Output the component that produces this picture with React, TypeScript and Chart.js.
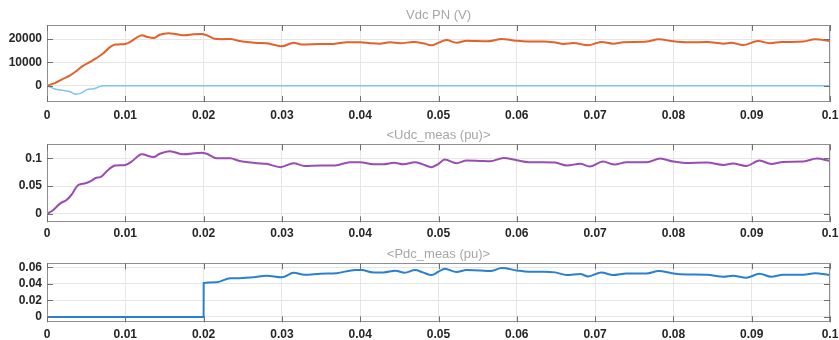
import React, { useEffect, useRef } from "react";
import { Chart, registerables } from "chart.js";
Chart.register(...registerables);

// ---------- data ----------
const xTicks = [0, 0.01, 0.02, 0.03, 0.04, 0.05, 0.06, 0.07, 0.08, 0.09, 0.1];
const xTickLabels = ["0", "0.01", "0.02", "0.03", "0.04", "0.05", "0.06", "0.07", "0.08", "0.09", "0.1"];

const vdcTicks = [0, 10000, 20000];
const vdcTickLabels = ["0", "10000", "20000"];
const udcTicks = [0, 0.05, 0.1];
const udcTickLabels = ["0", "0.05", "0.1"];
const pdcTicks = [0, 0.02, 0.04, 0.06];
const pdcTickLabels = ["0", "0.02", "0.04", "0.06"];

const vdcTime = [0, 0.001, 0.0021, 0.0029, 0.0038, 0.0046, 0.0055, 0.0063, 0.0072, 0.008, 0.0087, 0.01, 0.0106, 0.0115, 0.0121, 0.0127, 0.0136, 0.0144, 0.0155, 0.0166, 0.0176, 0.0187, 0.0197, 0.0204, 0.0214, 0.0223, 0.0234, 0.0246, 0.0259, 0.0268, 0.028, 0.0291, 0.03, 0.0315, 0.0327, 0.0349, 0.0366, 0.0383, 0.04, 0.0413, 0.0425, 0.0438, 0.0451, 0.0468, 0.048, 0.0491, 0.05, 0.051, 0.0523, 0.0536, 0.0549, 0.0562, 0.0581, 0.0596, 0.0613, 0.0634, 0.0647, 0.066, 0.0672, 0.0691, 0.0708, 0.0723, 0.0736, 0.0766, 0.0781, 0.08, 0.0817, 0.0843, 0.0864, 0.0874, 0.0889, 0.0908, 0.0923, 0.0938, 0.0966, 0.0981, 0.1];
const vdcValues = [0, 1100, 3000, 4300, 6400, 8500, 10200, 11800, 13900, 16400, 17600, 17900, 18700, 20700, 21600, 21000, 20400, 21800, 22500, 22000, 21600, 22000, 22100, 21600, 20100, 19900, 20000, 19100, 18600, 18300, 18200, 17400, 16900, 18400, 17600, 17900, 17900, 18600, 18600, 18200, 18000, 18600, 18200, 18700, 18200, 17300, 18400, 19600, 18400, 19300, 19100, 19000, 20000, 19400, 18900, 18900, 18600, 17900, 18300, 17300, 18700, 18000, 18600, 18900, 19900, 19000, 18600, 18700, 18000, 18400, 17400, 19100, 18200, 18700, 18900, 19900, 19100];

const vdcNegTime = [0, 0.001, 0.002, 0.0029, 0.0037, 0.0044, 0.0051, 0.006, 0.0068, 0.0072, 0.1];
const vdcNegValues = [0, -1400, -2000, -2500, -3700, -3100, -1700, -1300, -300, 0, 0];

const udcTime = [0, 0.0008, 0.0017, 0.0025, 0.0031, 0.004, 0.0049, 0.0057, 0.0063, 0.0068, 0.0078, 0.0087, 0.01, 0.0108, 0.0121, 0.0136, 0.0144, 0.0157, 0.0174, 0.0197, 0.0204, 0.0217, 0.0234, 0.0246, 0.0268, 0.028, 0.0298, 0.0315, 0.0329, 0.0349, 0.0368, 0.0387, 0.04, 0.0417, 0.043, 0.0443, 0.0455, 0.047, 0.048, 0.0491, 0.05, 0.0508, 0.0523, 0.0536, 0.0553, 0.0566, 0.0583, 0.06, 0.0615, 0.0634, 0.0649, 0.0664, 0.0681, 0.0693, 0.071, 0.0725, 0.074, 0.0766, 0.0783, 0.08, 0.0815, 0.0843, 0.0864, 0.0876, 0.0893, 0.091, 0.0925, 0.094, 0.0966, 0.0983, 0.1];
const udcValues = [0, 0.007, 0.019, 0.025, 0.034, 0.052, 0.055, 0.06, 0.065, 0.066, 0.079, 0.087, 0.088, 0.094, 0.107, 0.102, 0.108, 0.1126, 0.107, 0.11, 0.108, 0.1, 0.1, 0.095, 0.091, 0.09, 0.084, 0.091, 0.086, 0.087, 0.087, 0.093, 0.093, 0.089, 0.089, 0.092, 0.089, 0.093, 0.089, 0.084, 0.09, 0.0976, 0.091, 0.0958, 0.0952, 0.0946, 0.1006, 0.0964, 0.093, 0.093, 0.0922, 0.087, 0.09, 0.085, 0.094, 0.0886, 0.0928, 0.0928, 0.0994, 0.094, 0.0916, 0.0922, 0.088, 0.0904, 0.0862, 0.0958, 0.0898, 0.0934, 0.094, 0.0994, 0.095];

const pdcTime = [0, 0.01, 0.02, 0.02001, 0.0217, 0.0234, 0.0246, 0.0264, 0.028, 0.03, 0.0315, 0.0329, 0.0349, 0.037, 0.0394, 0.0402, 0.0417, 0.043, 0.0445, 0.0457, 0.047, 0.048, 0.0491, 0.05, 0.0508, 0.0523, 0.0536, 0.0553, 0.0566, 0.0581, 0.06, 0.0615, 0.0634, 0.0649, 0.0664, 0.0681, 0.0691, 0.0708, 0.0723, 0.074, 0.0766, 0.0781, 0.08, 0.0817, 0.0843, 0.0864, 0.0876, 0.0893, 0.091, 0.0925, 0.094, 0.0966, 0.0981, 0.1];
const pdcValues = [0, 0, 0, 0.041, 0.042, 0.047, 0.047, 0.048, 0.05, 0.048, 0.0535, 0.051, 0.0523, 0.053, 0.057, 0.0568, 0.054, 0.054, 0.056, 0.0536, 0.0568, 0.054, 0.0507, 0.0548, 0.0584, 0.0544, 0.0568, 0.0564, 0.0556, 0.0592, 0.0564, 0.0548, 0.0548, 0.054, 0.0507, 0.052, 0.049, 0.054, 0.0507, 0.0527, 0.0527, 0.0556, 0.0527, 0.0515, 0.0511, 0.0487, 0.0499, 0.0475, 0.0523, 0.0487, 0.0511, 0.0511, 0.053, 0.0507];

// ---------- styling ----------
const FONT = "'Liberation Sans', Arial, Helvetica, sans-serif";
const W = 839;

const boxPlugin = {
  id: "matlabBox",
  afterDraw(chart: any) {
    const { ctx, chartArea: a, scales } = chart;
    const opts = chart.options.plugins.matlabBox || {};
    ctx.save();
    if (opts.title) {
      ctx.font = `13px ${FONT}`;
      ctx.fillStyle = "#a6a6a6";
      ctx.textAlign = "center";
      ctx.textBaseline = "middle";
      ctx.fillText(opts.title, (a.left + a.right) / 2, opts.titleY);
    }
    ctx.strokeStyle = "#8f8f8f";
    ctx.lineWidth = 1;
    ctx.strokeRect(Math.round(a.left) + 0.5, Math.round(a.top) + 0.5, Math.round(a.right - a.left) - 1, Math.round(a.bottom - a.top) - 1);
    const L = 6;
    ctx.strokeStyle = "#6f6f6f";
    ctx.beginPath();
    scales.x.ticks.forEach((t: any) => {
      const x = Math.round(scales.x.getPixelForValue(t.value)) + 0.5;
      ctx.moveTo(x, a.bottom);
      ctx.lineTo(x, a.bottom - L);
      ctx.moveTo(x, a.top);
      ctx.lineTo(x, a.top + L);
    });
    scales.y.ticks.forEach((t: any) => {
      const y = Math.round(scales.y.getPixelForValue(t.value)) + 0.5;
      ctx.moveTo(a.left, y);
      ctx.lineTo(a.left + L, y);
      ctx.moveTo(a.right, y);
      ctx.lineTo(a.right - L, y);
    });
    ctx.stroke();
    ctx.restore();
  },
};

type Series = { time: number[]; values: number[]; color: string; width: number };

type PanelProps = {
  top: number;
  height: number;
  title: string;
  titleY: number;
  areaTop: number;
  axisH: number;
  labelPad: number;
  yMin: number;
  yMax: number;
  yTicks: number[];
  yLabels: string[];
  series: Series[];
};

function Panel(p: PanelProps) {
  const ref = useRef<HTMLCanvasElement | null>(null);
  useEffect(() => {
    if (!ref.current) return;
    const tickFont = { family: FONT, size: 12, weight: "bold" as const };
    const chart = new Chart(ref.current, {
      type: "line",
      data: {
        datasets: p.series.map((s) => ({
          data: s.time.map((t, i) => ({ x: t, y: s.values[i] })),
          borderColor: s.color,
          borderWidth: s.width,
          pointRadius: 0,
          fill: false,
          cubicInterpolationMode: "monotone" as const,
        })),
      },
      options: {
        animation: false,
        responsive: false,
        devicePixelRatio: 1,
        layout: { padding: { top: p.areaTop, right: 9, left: 0, bottom: 0 } },
        plugins: {
          legend: { display: false },
          tooltip: { enabled: false },
          title: { display: false },
          matlabBox: { title: p.title, titleY: p.titleY },
        } as any,
        scales: {
          x: {
            type: "linear",
            min: 0,
            max: 0.1,
            afterBuildTicks: (s: any) => {
              s.ticks = xTicks.map((v) => ({ value: v }));
            },
            afterFit: (s: any) => {
              s.height = p.axisH;
              s.paddingLeft = 0;
              s.paddingRight = 0;
            },
            ticks: {
              font: tickFont,
              color: "#262626",
              padding: p.labelPad,
              maxRotation: 0,
              autoSkip: false,
              callback: (_v: any, i: number) => xTickLabels[i],
            },
            grid: { color: "#e6e6e6", drawTicks: false },
            border: { display: false },
          },
          y: {
            type: "linear",
            min: p.yMin,
            max: p.yMax,
            afterBuildTicks: (s: any) => {
              s.ticks = p.yTicks.map((v) => ({ value: v }));
            },
            afterFit: (s: any) => {
              s.width = 47;
              s.paddingTop = 0;
              s.paddingBottom = 0;
            },
            ticks: {
              font: tickFont,
              color: "#262626",
              padding: 5,
              autoSkip: false,
              callback: (_v: any, i: number) => p.yLabels[i],
            },
            grid: { color: "#e6e6e6", drawTicks: false },
            border: { display: false },
          },
        },
      },
      plugins: [boxPlugin],
    } as any);
    return () => chart.destroy();
  }, []);
  return (
    <div style={{ position: "absolute", left: 0, top: p.top, width: W, height: p.height }}>
      <canvas ref={ref} width={W} height={p.height} style={{ display: "block" }} />
    </div>
  );
}

export default function App() {
  return (
    <div style={{ position: "absolute", left: 0, top: 0, width: W, height: 340, background: "#ffffff" }}>
      <Panel
        top={0}
        height={124}
        title="Vdc PN (V)"
        titleY={15}
        areaTop={25}
        axisH={22}
        labelPad={6}
        yMin={-7000}
        yMax={26000}
        yTicks={vdcTicks}
        yLabels={vdcTickLabels}
        series={[
          { time: vdcTime, values: vdcValues, color: "#e4622a", width: 2 },
          { time: vdcNegTime, values: vdcNegValues, color: "#7cc4f2", width: 1.5 },
        ]}
      />
      <Panel
        top={124}
        height={118}
        title="<Udc_meas (pu)>"
        titleY={11}
        areaTop={20.3}
        axisH={19.7}
        labelPad={3.8}
        yMin={-0.015}
        yMax={0.125}
        yTicks={udcTicks}
        yLabels={udcTickLabels}
        series={[{ time: udcTime, values: udcValues, color: "#9b4cb3", width: 2 }]}
      />
      <Panel
        top={242}
        height={98}
        title="<Pdc_meas (pu)>"
        titleY={12}
        areaTop={21.3}
        axisH={17.7}
        labelPad={5.5}
        yMin={-0.0065}
        yMax={0.065}
        yTicks={pdcTicks}
        yLabels={pdcTickLabels}
        series={[{ time: pdcTime, values: pdcValues, color: "#2a80d0", width: 2 }]}
      />
    </div>
  );
}
